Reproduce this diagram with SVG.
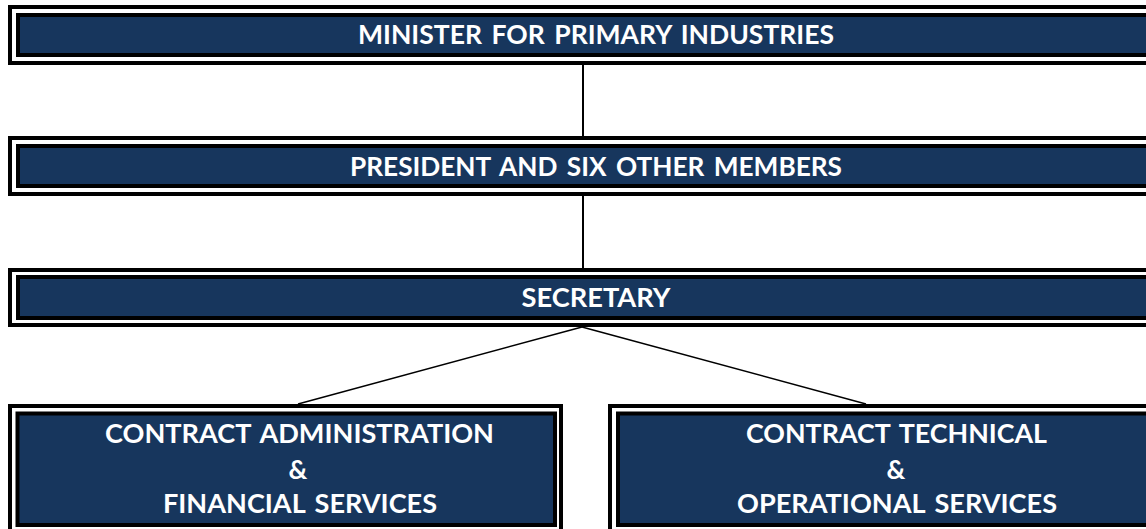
<svg xmlns="http://www.w3.org/2000/svg" width="1146" height="529" viewBox="0 0 1146 529">
<style>
.outer{fill:none;stroke:#000;stroke-width:4}
.inner{fill:#17365d;stroke:#000;stroke-width:4}
.t{font-family:Lato,"Open Sans","Liberation Sans",sans-serif;font-weight:bold;fill:#fff;text-anchor:middle;font-size:26px;word-spacing:3px}
.c{stroke:#000;fill:none}
</style>
<rect width="1146" height="529" fill="#fff"/>
<g id="connectors">
<line class="c" x1="583" y1="65" x2="583" y2="136" stroke-width="2"/>
<line class="c" x1="583" y1="196" x2="583" y2="268" stroke-width="2"/>
<line class="c" x1="582" y1="327" x2="298" y2="404" stroke-width="1.5"/>
<line class="c" x1="582" y1="327" x2="866" y2="404" stroke-width="1.5"/>
</g>
<g id="minister">
<rect class="outer" x="10" y="7" width="1150" height="56"/>
<rect class="inner" x="18" y="15" width="1150" height="40"/>
<text class="t" x="596" y="44" textLength="476" lengthAdjust="spacingAndGlyphs">MINISTER FOR PRIMARY INDUSTRIES</text>
</g>
<g id="president">
<rect class="outer" x="10" y="138" width="1150" height="56"/>
<rect class="inner" x="18" y="146" width="1150" height="40"/>
<text class="t" x="596" y="176" textLength="492" lengthAdjust="spacingAndGlyphs">PRESIDENT AND SIX OTHER MEMBERS</text>
</g>
<g id="secretary">
<rect class="outer" x="10" y="270" width="1150" height="55"/>
<rect class="inner" x="18" y="277" width="1150" height="41"/>
<text class="t" x="596" y="307" textLength="149" lengthAdjust="spacingAndGlyphs">SECRETARY</text>
</g>
<g id="admin">
<rect class="outer" x="10" y="406" width="551" height="130"/>
<rect class="inner" x="17.5" y="413.5" width="537.5" height="111.5"/>
<text class="t" x="299.5" y="443" textLength="389" lengthAdjust="spacingAndGlyphs">CONTRACT ADMINISTRATION</text>
<text class="t" x="298" y="479">&amp;</text>
<text class="t" x="300" y="513" textLength="274" lengthAdjust="spacingAndGlyphs">FINANCIAL SERVICES</text>
</g>
<g id="technical">
<rect class="outer" x="610" y="406" width="560" height="130"/>
<rect class="inner" x="618" y="413.5" width="560" height="111.5"/>
<text class="t" x="896.5" y="443" textLength="301" lengthAdjust="spacingAndGlyphs">CONTRACT TECHNICAL</text>
<text class="t" x="896" y="479">&amp;</text>
<text class="t" x="897" y="513" textLength="320" lengthAdjust="spacingAndGlyphs">OPERATIONAL SERVICES</text>
</g>
</svg>
